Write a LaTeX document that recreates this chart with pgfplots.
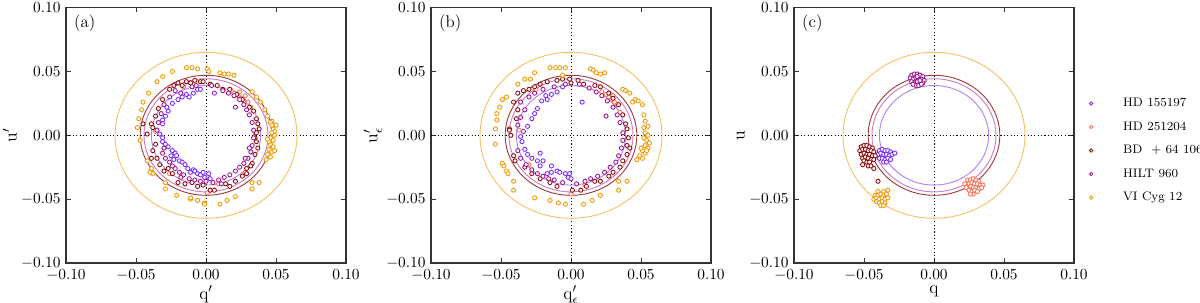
\documentclass[border=0pt]{standalone}
\usepackage{pgfplots}
\pgfplotsset{compat=1.18}
\definecolor{cblue}{HTML}{7B2CF5}
\definecolor{csalmon}{HTML}{FF6E55}
\definecolor{cdred}{HTML}{8B0A0A}
\definecolor{cmag}{HTML}{9E1490}
\definecolor{corange}{HTML}{EE9A00}
\pgfplotsset{
  panel/.style={
    scale only axis, width=182pt, height=166pt,
    xmin=-0.1, xmax=0.1, ymin=-0.1, ymax=0.1,
    xtick={-0.1,-0.05,0,0.05,0.1}, ytick={-0.1,-0.05,0,0.05,0.1},
    scaled ticks=false,
    xticklabel style={yshift=-1pt, /pgf/number format/.cd, fixed, fixed zerofill, precision=2},
    yticklabel style={/pgf/number format/.cd, fixed, fixed zerofill, precision=2},
    tick align=inside, major tick length=3pt,
    axis line style={draw=black!80, line width=0.8pt},
    tick style={black!80, line width=0.6pt},
    label style={font=\fontsize{11.5}{13}\selectfont},
    xlabel style={yshift=1.5pt, inner sep=1pt},
    ylabel style={yshift=-4pt},
    clip=true,
  },
  pstyle/.style={only marks, mark=*, mark size=1.35pt,
    mark options={fill=white, line width=0.55pt},
    error bars/x dir=both, error bars/y dir=both,
    error bars/x fixed=0.0025, error bars/y fixed=0.0025,
    error bars/error mark=none,
    error bars/error bar style={opacity=0.12, line width=0.6pt}},
}
\newcommand{\rings}{%
  \draw[black, line width=0.55pt, dash pattern=on 0.7pt off 1.5pt] (axis cs:-0.1,0) -- (axis cs:0.1,0);
  \draw[black, line width=0.55pt, dash pattern=on 0.7pt off 1.5pt] (axis cs:0,-0.1) -- (axis cs:0,0.1);
  \draw[corange!60, line width=0.6pt] (axis cs:0,0) ellipse [x radius=0.065, y radius=0.065];
  \draw[cdred!80, line width=0.6pt] (axis cs:0,0) ellipse [x radius=0.047, y radius=0.047];
  \draw[cmag!55, line width=0.6pt] (axis cs:0,0) ellipse [x radius=0.0443, y radius=0.0443];
  \draw[cblue!60, line width=0.6pt] (axis cs:0,0) ellipse [x radius=0.039, y radius=0.039];
}
\begin{document}
\begin{tikzpicture}
\path[use as bounding box] (0,0) rectangle (780pt,196.95pt);
% ---------------- panel (a)
\begin{axis}[panel, at={(42.9pt,26pt)}, anchor=south west,
  xlabel={q$'$}, ylabel={u$'$}]
\rings
\addplot[cblue, pstyle] coordinates {
(-0.020,0.028)(-0.017,0.030)(-0.014,0.032)(-0.009,0.033)(-0.006,0.036)(-0.004,0.036)(0.006,0.033)
(-0.024,0.025)(-0.027,0.019)(-0.029,0.015)(-0.031,0.012)(-0.031,0.009)(-0.033,0.001)(-0.031,-0.002)
(-0.031,-0.005)(-0.029,-0.007)(-0.027,-0.009)(-0.024,-0.012)(-0.022,-0.014)(-0.021,-0.016)(-0.019,-0.020)
(-0.017,-0.021)(-0.015,-0.023)(-0.013,-0.026)(-0.011,-0.029)(-0.009,-0.027)(-0.008,-0.028)(-0.006,-0.030)
(-0.004,-0.031)(-0.002,-0.029)(0.001,-0.032)(-0.001,-0.033)(0.002,-0.030)(0.003,-0.034)(-0.025,-0.016)
(-0.023,-0.019)(-0.028,0.022)(-0.012,0.030)};
\addplot[csalmon, pstyle] coordinates {
(0.020,0.033)(0.023,0.031)(0.025,0.029)(0.027,0.027)(0.028,0.031)(0.030,0.026)(0.024,0.034)(0.018,0.035)
(0.032,0.022)(-0.036,0.003)(0.001,-0.045)(-0.026,-0.030)(-0.016,0.038)(0.035,0.002)(0.009,-0.038)(0.028,-0.029)};
\addplot[cdred, pstyle] coordinates {
(-0.020,0.041)(-0.014,0.042)(-0.008,0.043)(-0.004,0.042)(-0.026,0.036)(-0.031,0.028)(-0.034,0.021)
(-0.036,0.015)(-0.039,0.009)(-0.038,0.006)(-0.011,0.041)(-0.002,0.042)(0.003,0.040)(0.012,0.036)
(0.017,0.036)(0.022,0.032)(0.026,0.028)(0.031,0.022)(0.034,0.019)(0.036,0.013)(0.037,0.009)(0.036,0.002)
(0.035,-0.002)(0.036,-0.005)(0.037,-0.010)(0.035,-0.015)(0.033,-0.022)(0.029,-0.026)(0.026,-0.032)
(0.021,-0.036)(0.017,-0.040)(0.014,-0.038)(0.006,-0.043)(0.003,-0.043)(-0.035,-0.018)(-0.033,-0.023)
(-0.027,-0.026)(-0.024,-0.030)(-0.020,-0.037)(-0.015,-0.038)(-0.010,-0.037)(-0.006,-0.040)(-0.002,-0.039)
(-0.038,-0.012)(-0.036,-0.007)(-0.045,0.009)(-0.042,0.001)(-0.039,-0.018)(-0.017,0.039)(0.008,0.039)
(-0.023,0.039)(0.029,-0.030)(0.032,-0.024)(0.038,0.005)(-0.030,-0.028)};
\addplot[cmag, pstyle] coordinates {
(-0.022,0.035)(-0.018,0.033)(-0.026,0.030)(-0.030,0.024)(-0.032,0.017)(-0.034,0.010)(-0.035,0.004)
(-0.030,-0.010)(-0.031,-0.014)(-0.029,-0.018)(-0.026,-0.021)(-0.022,-0.026)(-0.019,-0.029)(-0.016,-0.031)
(-0.012,-0.034)(-0.008,-0.035)(-0.004,-0.036)(0.000,-0.036)(0.005,-0.037)(0.009,-0.035)(0.013,-0.033)
(0.017,-0.031)(0.021,-0.028)(0.024,-0.025)(0.027,-0.022)(0.030,-0.018)(0.032,-0.013)(0.033,-0.008)
(0.034,-0.002)(0.034,0.004)(0.033,0.010)(0.031,0.016)(0.029,0.020)(0.027,0.024)(0.024,0.028)(0.020,0.031)
(0.016,0.033)(0.012,0.035)(0.004,0.039)(-0.010,0.038)(-0.007,0.039)(0.021,0.022)
(-0.024,-0.024)(-0.018,-0.033)(0.011,-0.038)(0.028,-0.018)(0.031,-0.010)};
\addplot[corange, pstyle] coordinates {
(-0.014,0.053)(-0.010,0.053)(-0.006,0.052)(0.001,0.052)(0.002,0.050)(0.010,0.049)(0.013,0.048)(0.016,0.048)
(0.020,0.047)(-0.024,0.050)(-0.031,0.046)(-0.035,0.042)(-0.041,0.033)(-0.045,0.026)(-0.046,0.020)
(-0.048,0.013)(-0.049,0.006)(0.033,0.034)(0.036,0.030)(0.039,0.026)(0.042,0.020)(0.044,0.015)(0.047,0.011)
(0.048,0.005)(0.049,0.003)(0.046,0.010)(0.047,0.008)(0.049,0.000)(0.046,-0.002)(0.048,-0.004)(0.046,-0.007)
(0.048,-0.009)(0.045,-0.011)(0.047,-0.013)(0.044,-0.015)(0.046,-0.017)(0.043,-0.019)(0.045,-0.005)
(0.049,-0.012)(0.044,-0.003)(0.050,0.008)(0.047,0.002)(0.033,-0.037)(0.038,-0.037)(0.033,-0.042)
(0.021,-0.048)(0.015,-0.051)(0.010,-0.054)(-0.001,-0.053)(-0.047,-0.004)(-0.042,-0.020)(-0.039,-0.026)
(-0.038,-0.030)(-0.040,-0.029)(-0.029,-0.037)(-0.029,-0.042)(-0.021,-0.047)(-0.011,-0.050)(-0.006,-0.051)
(-0.001,-0.054)(-0.011,-0.049)};
\node[anchor=north west, font=\fontsize{11}{13}\selectfont] at (axis description cs:0.01,0.995) {(a)};
\end{axis}
% ---------------- panel (b)
\begin{axis}[panel, at={(280.15pt,26pt)}, anchor=south west,
  xlabel={q$'_\epsilon$}, ylabel={u$'_\epsilon$}]
\rings
\addplot[cblue, pstyle] coordinates {
(-0.017,0.028)(-0.021,0.027)(-0.014,0.032)(-0.010,0.034)(-0.006,0.038)(0.008,0.026)(-0.024,0.021)
(-0.028,0.013)(-0.031,0.007)(-0.036,-0.001)(-0.035,-0.005)(-0.033,-0.011)(-0.031,-0.015)(-0.028,-0.018)
(-0.024,-0.020)(-0.022,-0.024)(-0.017,-0.030)(-0.014,-0.029)(-0.010,-0.028)(-0.008,-0.029)(-0.004,-0.030)
(-0.002,-0.033)(-0.001,-0.030)(0.000,-0.034)(-0.020,-0.020)(-0.014,-0.024)(-0.022,-0.014)(-0.034,0.003)
(-0.026,0.017)(-0.018,0.031)};
\addplot[csalmon, pstyle] coordinates {
(0.027,0.030)(0.029,0.028)(0.031,0.026)(0.025,0.032)(0.033,0.024)(0.022,0.034)(0.030,0.031)(-0.037,0.004)
(0.000,-0.046)(-0.030,-0.023)(-0.025,0.036)(0.035,0.018)(0.010,-0.039)};
\addplot[cdred, pstyle] coordinates {
(-0.044,0.005)(-0.043,0.000)(-0.041,0.026)(-0.038,0.033)(-0.034,0.035)(-0.022,0.040)(-0.017,0.042)
(-0.010,0.043)(-0.006,0.044)(-0.001,0.044)(0.000,0.041)(0.005,0.043)(0.009,0.040)(0.017,0.039)(0.021,0.038)
(0.027,0.033)(0.030,0.029)(0.034,0.024)(0.037,0.016)(0.039,0.009)(0.040,0.005)(0.041,-0.002)(0.040,-0.008)
(0.042,-0.010)(0.040,-0.015)(0.037,-0.020)(0.035,-0.025)(0.030,-0.029)(0.027,-0.032)(0.021,-0.036)
(0.017,-0.036)(0.011,-0.040)(0.007,-0.043)(0.001,-0.043)(-0.010,-0.040)(-0.015,-0.037)(-0.022,-0.034)
(-0.028,-0.030)(-0.033,-0.025)(-0.040,-0.020)(-0.041,-0.016)(-0.039,0.013)(-0.038,0.020)(-0.044,0.004)
(-0.030,0.036)(-0.026,0.038)};
\addplot[cmag, pstyle] coordinates {
(-0.036,0.026)(-0.033,0.020)(-0.036,0.014)(-0.038,0.008)(-0.038,-0.012)(-0.036,-0.018)(-0.032,-0.023)
(-0.028,-0.027)(-0.024,-0.030)(-0.020,-0.032)(-0.016,-0.034)(-0.012,-0.035)(-0.006,-0.037)(0.004,-0.038)
(0.010,-0.036)(0.014,-0.034)(0.019,-0.032)(0.024,-0.029)(0.028,-0.025)(0.032,-0.021)(0.034,-0.016)
(0.036,-0.010)(0.037,-0.004)(0.037,0.002)(0.035,0.010)(0.033,0.016)(0.030,0.022)(0.026,0.027)(0.022,0.031)
(0.018,0.034)(0.013,0.037)(0.006,0.040)(-0.004,0.040)(-0.012,0.038)(-0.020,0.036)(-0.026,0.033)
(-0.030,0.030)(0.025,0.015)};
\addplot[corange, pstyle] coordinates {
(-0.015,0.053)(-0.011,0.053)(-0.008,0.053)(-0.004,0.053)(-0.006,0.047)(0.014,0.052)(0.016,0.051)(0.018,0.049)
(0.021,0.048)(0.024,0.049)(-0.026,0.049)(-0.029,0.044)(-0.033,0.044)(-0.038,0.040)(-0.046,0.030)
(-0.049,0.028)(-0.051,0.022)(-0.053,0.017)(-0.053,0.012)(-0.054,0.005)(-0.054,-0.007)(-0.049,-0.022)
(-0.048,-0.024)(-0.046,-0.028)(-0.045,-0.030)(-0.041,-0.036)(-0.041,-0.043)(-0.026,-0.049)(-0.015,-0.051)
(-0.009,-0.053)(-0.004,-0.054)(0.009,-0.054)(0.015,-0.051)(0.021,-0.047)(0.034,-0.036)(0.034,-0.043)
(0.040,-0.036)(0.037,0.036)(0.039,0.035)(0.042,0.033)(0.046,0.028)(0.048,0.027)(0.051,0.024)(0.052,0.016)
(0.053,0.011)(0.052,0.006)(0.055,0.007)(0.053,0.002)(0.055,0.000)(0.052,-0.002)(0.054,-0.004)(0.056,-0.006)
(0.053,-0.008)(0.055,-0.010)(0.051,-0.012)(0.053,-0.014)(0.049,-0.016)(0.051,-0.018)(0.047,-0.019)
(0.054,-0.012)(0.050,-0.010)(0.044,0.026)};
\node[anchor=north west, font=\fontsize{11}{13}\selectfont] at (axis description cs:0.01,0.995) {(b)};
\end{axis}
% ---------------- panel (c)
\begin{axis}[panel, at={(516.1pt,26pt)}, anchor=south west,
  xlabel={q}, ylabel={u},
  legend cell align=left,
  legend style={at={(axis description cs:1.025,0.44)}, anchor=west, draw=none, fill=none,
    font=\footnotesize, row sep=4.3pt},
  legend image code/.code={\path[draw=none] (0cm,0cm) -- (0.78cm,0cm);
    \draw[mark size=1.1pt] plot coordinates {(0.12cm,0cm)};}]
\rings
\addplot[cblue, pstyle] coordinates {
(-0.039,-0.012)(-0.037,-0.011)(-0.035,-0.012)(-0.033,-0.012)(-0.031,-0.013)(-0.040,-0.015)(-0.038,-0.014)
(-0.036,-0.015)(-0.034,-0.015)(-0.032,-0.016)(-0.030,-0.015)(-0.028,-0.014)(-0.039,-0.018)(-0.037,-0.018)
(-0.035,-0.019)(-0.033,-0.018)(-0.031,-0.019)(-0.036,-0.021)(-0.034,-0.021)};
\addlegendentry{HD 155197}
\addplot[csalmon, pstyle] coordinates {
(0.024,-0.035)(0.026,-0.035)(0.028,-0.034)(0.030,-0.035)(0.032,-0.036)(0.022,-0.038)(0.025,-0.038)
(0.027,-0.037)(0.029,-0.038)(0.031,-0.038)(0.033,-0.039)(0.035,-0.039)(0.023,-0.041)(0.026,-0.040)
(0.028,-0.041)(0.030,-0.041)(0.032,-0.042)(0.034,-0.041)(0.025,-0.043)(0.027,-0.044)(0.029,-0.043)
(0.031,-0.044)(0.028,-0.046)(0.026,-0.046)};
\addlegendentry{HD 251204}
\addplot[cdred, pstyle] coordinates {
(-0.052,-0.009)(-0.050,-0.008)(-0.048,-0.008)(-0.046,-0.009)(-0.044,-0.010)(-0.053,-0.012)(-0.051,-0.011)
(-0.049,-0.011)(-0.047,-0.012)(-0.045,-0.012)(-0.043,-0.013)(-0.052,-0.015)(-0.050,-0.014)(-0.048,-0.015)
(-0.046,-0.015)(-0.044,-0.016)(-0.042,-0.016)(-0.051,-0.018)(-0.049,-0.017)(-0.047,-0.018)(-0.045,-0.019)
(-0.043,-0.019)(-0.050,-0.020)(-0.048,-0.021)(-0.046,-0.021)(-0.051,-0.023)(-0.047,-0.024)(-0.045,-0.024)
(-0.043,-0.026)(-0.040,-0.036)};
\addlegendentry{BD \ $+$ 64 106}
\addplot[cmag, pstyle] coordinates {
(-0.016,0.047)(-0.014,0.048)(-0.012,0.048)(-0.010,0.047)(-0.008,0.046)(-0.017,0.045)(-0.015,0.044)
(-0.013,0.045)(-0.011,0.044)(-0.009,0.044)(-0.007,0.043)(-0.016,0.042)(-0.014,0.041)(-0.012,0.042)
(-0.010,0.041)(-0.008,0.041)(-0.013,0.039)(-0.011,0.039)(-0.015,0.040)(-0.009,0.040)(-0.012,0.046)
(-0.010,0.043)};
\addlegendentry{HILT 960}
\addplot[corange, pstyle] coordinates {
(-0.040,-0.044)(-0.036,-0.044)(-0.033,-0.043)(-0.042,-0.047)(-0.040,-0.047)(-0.038,-0.046)(-0.036,-0.047)
(-0.034,-0.046)(-0.043,-0.050)(-0.041,-0.049)(-0.039,-0.050)(-0.037,-0.049)(-0.035,-0.050)(-0.033,-0.049)
(-0.041,-0.052)(-0.039,-0.053)(-0.037,-0.052)(-0.035,-0.053)(-0.038,-0.055)(-0.036,-0.055)};
\addlegendentry{VI Cyg 12}
\node[anchor=north west, font=\fontsize{11}{13}\selectfont] at (axis description cs:0.01,0.995) {(c)};
\end{axis}
\end{tikzpicture}
\end{document}
